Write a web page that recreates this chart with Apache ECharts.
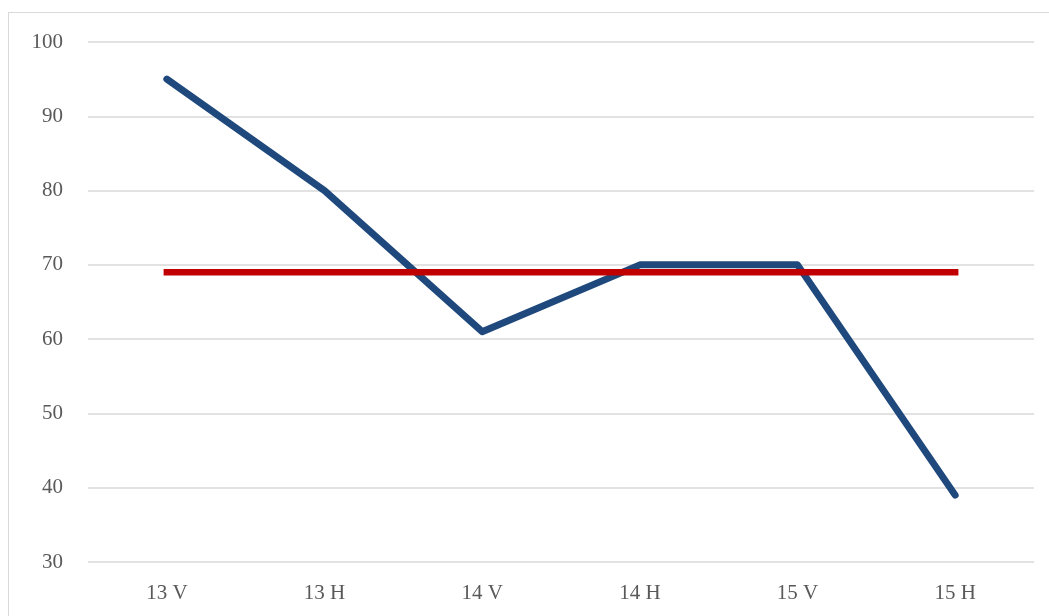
<!DOCTYPE html>
<html>
<head>
<meta charset="utf-8">
<script src="https://cdn.jsdelivr.net/npm/echarts@6/dist/echarts.min.js"></script>
<style>
  html, body { margin: 0; padding: 0; background: #fff; overflow: hidden; }
  #frame { position: absolute; left: 8px; top: 12px; width: 1100px; height: 700px;
           border: 1.5px solid #d9d9d9; box-sizing: border-box; }
  #main { position: absolute; left: 0; top: 0; width: 1049px; height: 616px; }
</style>
</head>
<body>
<div id="frame"></div>
<div id="main"></div>
<script>
  // categorias y valores
  var categories = ['13 V', '13 H', '14 V', '14 H', '15 V', '15 H'];
  var scores = [95, 80, 61, 70, 70, 39];
  var average = [69, 69, 69, 69, 69, 69];

  var myChart = echarts.init(document.getElementById('main'));
  var option = {
    animation: false,
    textStyle: { fontFamily: 'Liberation Serif' },
    grid: { left: 88, right: 15, top: 42, bottom: 54 },
    xAxis: {
      type: 'category',
      data: categories,
      boundaryGap: true,
      axisLine: { show: false },
      axisTick: { show: false },
      axisLabel: { color: '#595959', fontSize: 21, margin: 21, fontFamily: 'Liberation Serif' }
    },
    yAxis: {
      type: 'value',
      min: 30,
      max: 100,
      interval: 10,
      axisLine: { show: false },
      axisTick: { show: false },
      axisLabel: { color: '#595959', fontSize: 21, margin: 25, fontFamily: 'Liberation Serif' },
      splitLine: { lineStyle: { color: '#d9d9d9', width: 1.5 } }
    },
    series: [
      {
        type: 'line',
        data: scores,
        symbol: 'none',
        lineStyle: { color: '#1f497d', width: 7, cap: 'round', join: 'round' }
      },
      {
        type: 'line',
        data: average,
        symbol: 'none',
        lineStyle: { color: '#c00000', width: 6.5, cap: 'square' }
      }
    ]
  };
  myChart.setOption(option);
</script>
</body>
</html>
